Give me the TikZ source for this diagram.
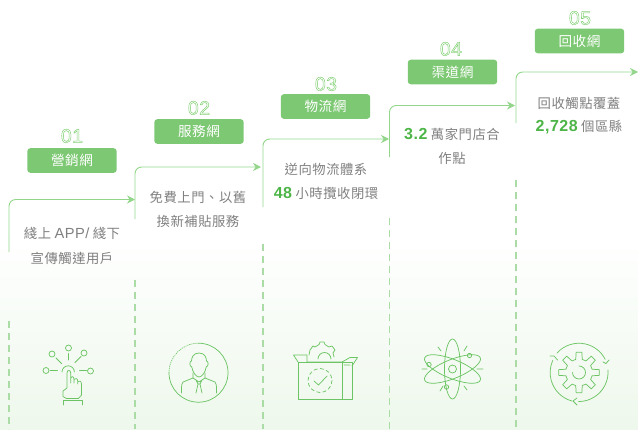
\documentclass[tikz,border=0pt]{standalone}
\usepackage{fontspec}
\usetikzlibrary{arrows.meta}
\newfontfamily\cjkfont[LetterSpace=4]{Noto Sans CJK TC}
\newfontfamily\figfont[LetterSpace=3]{Liberation Sans}
\definecolor{stepgreen}{HTML}{7DC873}
\definecolor{linegreen}{HTML}{93D68B}
\definecolor{dashgreen}{HTML}{ABDCA5}
\definecolor{icongreen}{HTML}{6CC464}
\definecolor{figgreen}{HTML}{4DB547}
\definecolor{textgray}{HTML}{808080}
\definecolor{basegreen}{HTML}{EEF8EC}
\newcommand{\hollow}[1]{\special{pdf:code q 1 Tr 0.4 w 0.52 0.82 0.47 RG}#1\special{pdf:code 0 Tr Q}}
\tikzset{
  namebox/.style={fill=stepgreen,rounded corners=2.2pt,minimum width=67pt,minimum height=18.4pt,inner sep=0pt,text=white,font=\cjkfont\fontsize{10.2}{12}\selectfont},
  numlabel/.style={inner sep=0pt,font=\figfont\fontsize{14.5}{15}\selectfont},
  bodytext/.style={inner sep=0pt,text=textgray,font=\cjkfont\fontsize{10}{12}\selectfont},
  riser/.style={draw=linegreen,line width=0.7pt,rounded corners=5pt,-{Stealth[length=6pt,width=6pt]}},
  dropline/.style={draw=dashgreen,line width=0.8pt,dash pattern=on 5pt off 4pt},
  iconline/.style={draw=icongreen,line width=0.55pt,line cap=round,line join=round},
}
\newcommand{\hl}[1]{{\figfont\bfseries\fontsize{12}{12}\selectfont\color{figgreen}#1}}
\newcommand{\latin}[1]{{\figfont\fontsize{11}{12}\selectfont #1}}
\begin{document}
\begin{tikzpicture}[x=0.75pt,y=-0.75pt]
\useasboundingbox (0,0) rectangle (638,429);
\shade[top color=white,bottom color=basegreen] (0,235) rectangle (638,429);
% steps
\coordinate (s1a) at (9,252);
\coordinate (s1b) at (135,199.5);
\coordinate (s2a) at (135,219);
\coordinate (s2b) at (261,167);
\coordinate (s3a) at (263,207);
\coordinate (s3b) at (389,139);
\coordinate (s4a) at (389.5,157);
\coordinate (s4b) at (515,105.5);
\coordinate (s5a) at (516,123);
\coordinate (s5b) at (638,72);
\draw[riser] (s1a) |- (s1b);
\draw[riser] (s2a) |- (s2b);
\draw[riser] (s3a) |- (s3b);
\draw[riser] (s4a) |- (s4b);
\draw[riser] (s5a) |- (s5b);
% dashed drops
\coordinate (d1a) at (9,321);
\coordinate (d1b) at (9,429);
\coordinate (d2a) at (135,280);
\coordinate (d2b) at (135,429);
\coordinate (d3a) at (263,244);
\coordinate (d3b) at (263,429);
\coordinate (d4a) at (389.5,218);
\coordinate (d4b) at (389.5,429);
\coordinate (d5a) at (516,180);
\coordinate (d5b) at (516,429);
\draw[dropline] (d1a) -- (d1b);
\draw[dropline] (d2a) -- (d2b);
\draw[dropline] (d3a) -- (d3b);
\draw[dropline] (d4a) -- (d4b);
\draw[dropline] (d5a) -- (d5b);
% names
\node[namebox] (box1) at (72,160.5) {營銷網};
\node[namebox] (box2) at (199,131.5) {服務網};
\node[namebox] (box3) at (325.5,106.5) {物流網};
\node[namebox] (box4) at (452.5,72) {渠道網};
\node[namebox] (box5) at (579.5,41) {回收網};
\node[numlabel] (num1) at (72,136) {\hollow{01}};
\node[numlabel] (num2) at (199,108) {\hollow{02}};
\node[numlabel] (num3) at (326,84) {\hollow{03}};
\node[numlabel] (num4) at (451,49) {\hollow{04}};
\node[numlabel] (num5) at (580,18) {\hollow{05}};
% texts
\node[bodytext] (t1a) at (72,233) {綫上 \latin{APP/} 綫下};
\node[bodytext] (t1b) at (72,258) {宣傳觸達用戶};
\node[bodytext] (t2a) at (198,197) {免費上門、以舊};
\node[bodytext] (t2b) at (198,221) {換新補貼服務};
\node[bodytext] (t3a) at (326,169) {逆向物流體系};
\node[bodytext] (t3b) at (326,193) {\hl{48} 小時攬收閉環};
\node[bodytext] (t4a) at (452,134) {\hl{3.2} 萬家門店合};
\node[bodytext] (t4b) at (452,158) {作點};
\node[bodytext] (t5a) at (579,103) {回收觸點覆蓋};
\node[bodytext] (t5b) at (579,127) {\hl{2,728} 個區縣};
% icon 1
\draw[iconline] (52,354) circle (3) (68.5,348) circle (3) (84,353) circle (3) (46,370.5) circle (3) (90.5,371) circle (3);
\draw[iconline] (56,358) -- (61.5,363.5) (68.5,353.5) -- (68.5,360) (81,356.5) -- (75,362.5) (50,370.5) -- (57.5,370.5) (79.5,370.5) -- (86.5,370.5);
\draw[iconline] (62,372) arc (180:360:6.2);
\draw[iconline] (67,388) -- (67,373) .. controls (67,369.5) and (70.7,369.5) .. (70.7,373) -- (70.7,383) (70.7,381) -- (70.7,378) .. controls (71,376) and (74,376) .. (74,379) -- (74,383) (74,379.5) .. controls (75,378) and (77.7,378) .. (77.7,381) -- (77.7,384) (77.7,381.5) .. controls (79,380.5) and (81.5,381) .. (81.5,384) -- (81.5,395) -- (78.5,398.5) -- (66.5,398.5) -- (63,396.5) -- (63,391) -- (67,388);
\draw[iconline] (63,405) -- (63,400.5) -- (82,400.5) -- (82,405);
% icon 2
\draw[iconline] (198.5,343.2) arc (-90:180:29.5);
\draw[iconline,densely dotted] (169,372.7) arc (180:270:29.5);
\draw[iconline] (199,353) .. controls (193,353) and (191.5,358) .. (191.5,361) .. controls (189.5,361) and (189,366) .. (191.8,367) .. controls (192.5,372) and (196,377) .. (199,377) .. controls (202,377) and (205.5,372) .. (206.2,367) .. controls (209,366) and (208.5,361) .. (206.5,361) .. controls (206.5,358) and (205,353) .. (199,353);
\draw[iconline] (193,373) -- (193,378) -- (183,382) .. controls (181.5,383) and (181.5,385) .. (181.5,393) (205,373) -- (205,378) -- (215,382) .. controls (216.5,383) and (216.5,385) .. (216.5,393);
\draw[iconline] (193,378) -- (199,382) -- (205,378) (196,380) -- (198,384) -- (196,393) (202,380) -- (200,384) -- (202,393) (198,384) -- (200,384);
% icon 3
\draw[iconline] (298,362) rectangle (352,399) (342,362) -- (342,399);
\draw[iconline] (298,362) -- (293.5,355) -- (307,355) -- (307,362) (342,362) -- (350,357.5) -- (357.5,357.5) -- (352,366) (342,362) -- (308,362) (344,365) -- (350,365);
\draw[iconline] (309,355) -- (310,350) -- (313,346) -- (315,347) -- (319,344.5) -- (320,342) -- (324,342) -- (325,344.5) -- (329,347) -- (332,346) -- (335,350) -- (333,353) -- (334,357);
\draw[iconline] (318,359) arc (180:360:6.5);
\draw[iconline,dash pattern=on 2.5pt off 2.2pt] (320,380.5) circle (12);
\draw[iconline] (314,381) -- (318.5,385) -- (327,376);
% icon 4
\draw[iconline,rotate around={22:(452.5,369)}] (452.5,369) ellipse (30 and 9.5);
\draw[iconline,rotate around={-22:(452.5,369)}] (452.5,369) ellipse (30 and 9.5);
\draw[iconline] (452.5,369) ellipse (8 and 30);
\draw[iconline] (452.5,369) circle (4);
\draw[iconline] (429,364.5) circle (2.2) (469.5,355.5) circle (2.2) (446.5,387) circle (2.2);
\draw[iconline] (422,369) -- (427,369) (477,369) -- (483,369) (438,347) -- (441,351) (464,351) -- (467,346) (440,391) -- (443,386) (464,386) -- (467,390);
% icon 5
\draw[iconline] (557,353) arc (-138:-27:29.5);
\draw[iconline] (608,370) arc (-4:90:29.5);
\draw[iconline] (572,401) arc (105:204:29.5);
\draw[iconline] (550,356) -- (554,356) -- (557.5,360) (603,362) -- (606,363.5) -- (609,360) (577,398) -- (573,401) -- (577,405);
\draw[iconline,shift={(579,372.5)}] (-14:13.5) \foreach \a in {0,45,...,315} { -- (\a-14:13.5) -- (\a-8:20.5) -- (\a+8:20.5) -- (\a+14:13.5)} -- cycle;
\draw[iconline] (579,366) arc (-90:180:6.5);
\end{tikzpicture}
\end{document}
